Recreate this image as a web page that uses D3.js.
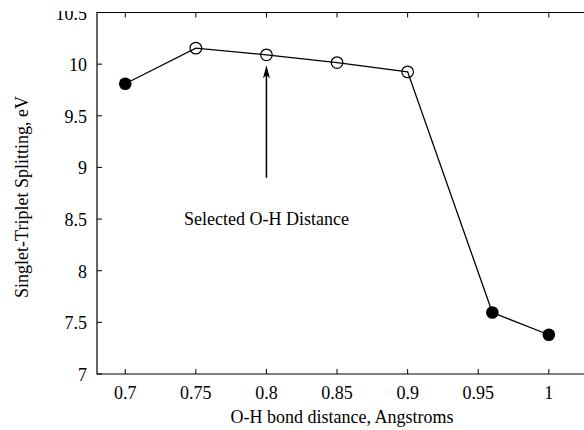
<!DOCTYPE html>
<html>
<head>
<meta charset="utf-8">
<script src="https://cdn.jsdelivr.net/npm/d3@7"></script>
<style>
  html, body { margin: 0; padding: 0; background: #fff; }
  svg { display: block; font-family: "Liberation Serif", "DejaVu Serif", serif; }
</style>
</head>
<body>
<div id="chart"></div>
<script>
// O-H bond distance (Angstroms) vs singlet-triplet splitting (eV)
const distances = [0.7, 0.75, 0.8, 0.85, 0.9, 0.96, 1.0];
const splitting = [9.81, 10.155, 10.09, 10.015, 9.925, 7.595, 7.38];
const filled    = [true, false, false, false, false, true, true];
const xTicks = [0.7, 0.75, 0.8, 0.85, 0.9, 0.95, 1];
const yTicks = [7, 7.5, 8, 8.5, 9, 9.5, 10, 10.5];
const selected = { x: 0.8, yFrom: 8.9, yTo: 9.99, label: 'Selected O-H Distance' };

const W = 584, H = 430;
const m = { top: 12.5, left: 97, bottom: 56 };
const FS = 18;

const svg = d3.select('#chart').append('svg').attr('width', W).attr('height', H);

// the source figure is cropped: right side runs past the edge, top label is cut
svg.append('clipPath').attr('id', 'crop')
  .append('rect').attr('x', 0).attr('y', 11).attr('width', W).attr('height', H);

const x = d3.scaleLinear().domain([0.68, 1.04]).range([m.left, m.left + (1.04 - 0.68) / 0.05 * 70.6]);
const y = d3.scaleLinear().domain([7, 10.5]).range([H - m.bottom, m.top]);
const plotRight = x(1.04);

const g = svg.append('g');

// frame: left, bottom, top
g.append('path')
  .attr('d', `M${plotRight},${y(10.5)}H${m.left}V${y(7)}H${plotRight}`)
  .attr('fill', 'none').attr('stroke', '#000').attr('stroke-width', 1.2);

// inward ticks
xTicks.forEach(t => {
  g.append('line').attr('x1', x(t)).attr('x2', x(t)).attr('y1', y(7)).attr('y2', y(7) - 5)
    .attr('stroke', '#000');
  g.append('line').attr('x1', x(t)).attr('x2', x(t)).attr('y1', y(10.5)).attr('y2', y(10.5) + 5)
    .attr('stroke', '#000');
  g.append('text').attr('x', x(t)).attr('y', y(7) + 25)
    .attr('text-anchor', 'middle').attr('font-size', FS).attr('fill', '#000')
    .text(d3.format('~g')(t));
});
const yLab = g.append('g').attr('clip-path', 'url(#crop)');
yTicks.forEach(t => {
  g.append('line').attr('x1', m.left).attr('x2', m.left + 5).attr('y1', y(t)).attr('y2', y(t))
    .attr('stroke', '#000');
  yLab.append('text').attr('x', m.left - 10).attr('y', y(t) + 7)
    .attr('text-anchor', 'end').attr('font-size', FS).attr('fill', '#000')
    .text(d3.format('~g')(t));
});

// axis labels
g.append('text').attr('x', 342).attr('y', 423)
  .attr('text-anchor', 'middle').attr('font-size', FS).attr('fill', '#000')
  .text('O-H bond distance, Angstroms');
g.append('text').attr('transform', `translate(28,${197}) rotate(-90)`)
  .attr('text-anchor', 'middle').attr('font-size', FS).attr('fill', '#000')
  .text('Singlet-Triplet Splitting, eV');

// data line + markers
const pts = distances.map((d, i) => ({ x: d, y: splitting[i], f: filled[i] }));
g.append('path').datum(pts)
  .attr('d', d3.line().x(d => x(d.x)).y(d => y(d.y)))
  .attr('fill', 'none').attr('stroke', '#000').attr('stroke-width', 1.3);
g.selectAll('circle.pt').data(pts).join('circle')
  .attr('class', 'pt')
  .attr('cx', d => x(d.x)).attr('cy', d => y(d.y))
  .attr('r', d => d.f ? 6.3 : 5.8)
  .attr('fill', d => d.f ? '#000' : '#fff')
  .attr('fill-opacity', d => d.f ? 1 : 0)
  .attr('stroke', '#000').attr('stroke-width', d => d.f ? 0 : 1.2);

// annotation arrow
const ax = x(selected.x), ay0 = y(selected.yFrom), ay1 = y(selected.yTo);
g.append('line').attr('x1', ax).attr('x2', ax).attr('y1', ay0).attr('y2', ay1 + 10)
  .attr('stroke', '#000').attr('stroke-width', 1.5);
g.append('path')
  .attr('d', `M${ax},${ay1}L${ax - 3.5},${ay1 + 13}L${ax},${ay1 + 10}L${ax + 3.5},${ay1 + 13}Z`)
  .attr('fill', '#000');
g.append('text').attr('x', ax).attr('y', 225)
  .attr('text-anchor', 'middle').attr('font-size', FS).attr('fill', '#000')
  .text(selected.label);
</script>
</body>
</html>
